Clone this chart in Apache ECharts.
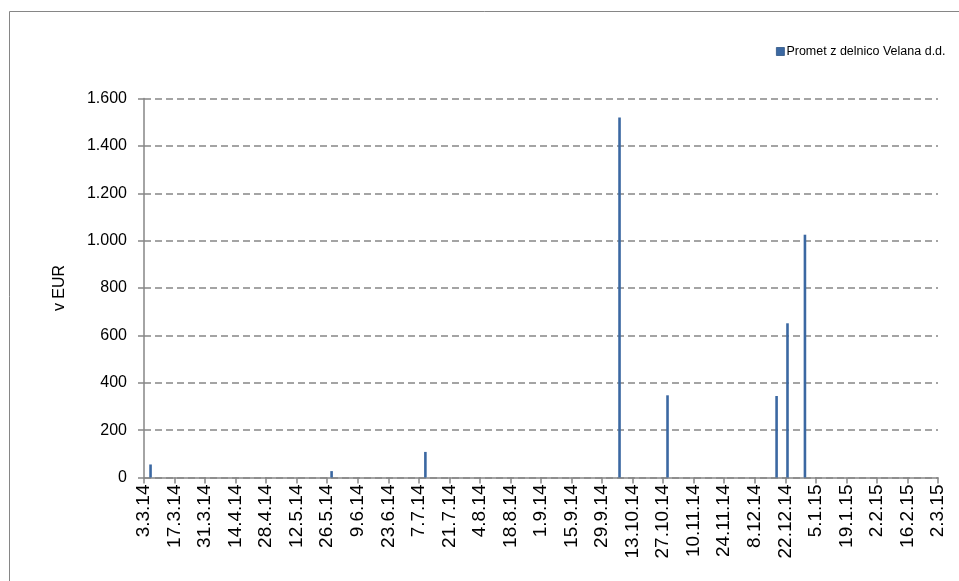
<!DOCTYPE html>
<html>
<head>
<meta charset="utf-8">
<script src="https://cdn.jsdelivr.net/npm/echarts@6/dist/echarts.min.js"></script>
<style>
html,body{margin:0;padding:0;background:#fff;}
#chart{width:959px;height:581px;}
</style>
</head>
<body>
<div id="chart"></div>
<script>
// Axis range (calendar days, one category per day)
const startDay = [2014, 3, 3];
const endDay = [2015, 3, 2];
// Trading days and turnover (EUR)
const tradeDates = ['6.3.14', '28.5.14', '10.7.14', '7.10.14', '29.10.14', '18.12.14', '23.12.14', '31.12.14'];
const tradeValues = [55, 27, 108, 1520, 347, 344, 651, 1025];
const seriesName = 'Promet z delnico Velana d.d.';
const yTicks = [0, 200, 400, 600, 800, 1000, 1200, 1400, 1600];

function fmt(d) {
  return d.getUTCDate() + '.' + (d.getUTCMonth() + 1) + '.' + String(d.getUTCFullYear() % 100).padStart(2, '0');
}
const categories = [];
{
  const s = Date.UTC(startDay[0], startDay[1] - 1, startDay[2]);
  const e = Date.UTC(endDay[0], endDay[1] - 1, endDay[2]);
  for (let t = s; t <= e; t += 86400000) categories.push(fmt(new Date(t)));
}
const values = categories.map(c => {
  const i = tradeDates.indexOf(c);
  return i >= 0 ? tradeValues[i] : '-';
});

function thou(v) {
  if (v >= 1000) return Math.floor(v / 1000) + '.' + String(v % 1000).padStart(3, '0');
  return String(v);
}

const chart = echarts.init(document.getElementById('chart'), null, {renderer: 'canvas'});
const font = 'Liberation Sans, Arial, sans-serif';
chart.setOption({
  animation: false,
  backgroundColor: '#fff',
  textStyle: {fontFamily: font},
  graphic: [{
    type: 'rect',
    shape: {x: 9.5, y: 11.5, width: 1000, height: 1000},
    style: {fill: 'none', stroke: '#868686', lineWidth: 1}
  }],
  legend: {
    data: [seriesName],
    left: 771,
    top: 40,
    icon: 'rect',
    itemWidth: 8,
    itemHeight: 8,
    itemGap: 4,
    itemStyle: {borderColor: '#2E5483', borderWidth: 0.8},
    textStyle: {fontFamily: font, fontSize: 12.5, color: '#000', padding: [0, 0, 0, -3]}
  },
  grid: {left: 144, right: 21, top: 98.5, bottom: 103.5, containLabel: false},
  xAxis: {
    type: 'category',
    data: categories,
    boundaryGap: false,
    axisLine: {lineStyle: {color: '#868686', width: 1.5}},
    axisTick: {show: true, interval: 13, length: 6, lineStyle: {color: '#868686', width: 1.5}},
    axisLabel: {interval: 13, rotate: 90, fontSize: 19, color: '#000', margin: 7, fontFamily: font},
    splitLine: {show: false}
  },
  yAxis: {
    type: 'value',
    min: yTicks[0],
    max: yTicks[yTicks.length - 1],
    interval: yTicks[1] - yTicks[0],
    name: 'v EUR',
    nameLocation: 'middle',
    nameRotate: 90,
    nameGap: 76,
    nameTextStyle: {fontSize: 16, color: '#000', fontFamily: font},
    axisLine: {show: true, lineStyle: {color: '#868686', width: 1.5}},
    axisTick: {show: true, length: 6, lineStyle: {color: '#868686', width: 1.5}},
    axisLabel: {fontSize: 16, color: '#000', margin: 17, formatter: thou, fontFamily: font},
    splitLine: {show: true, lineStyle: {color: '#868686', width: 1.5, type: [7, 4]}}
  },
  series: [{
    name: seriesName,
    type: 'bar',
    data: values,
    barWidth: 2.6,
    itemStyle: {color: '#3B68A2'},
    emphasis: {disabled: true}
  }]
});
</script>
</body>
</html>
